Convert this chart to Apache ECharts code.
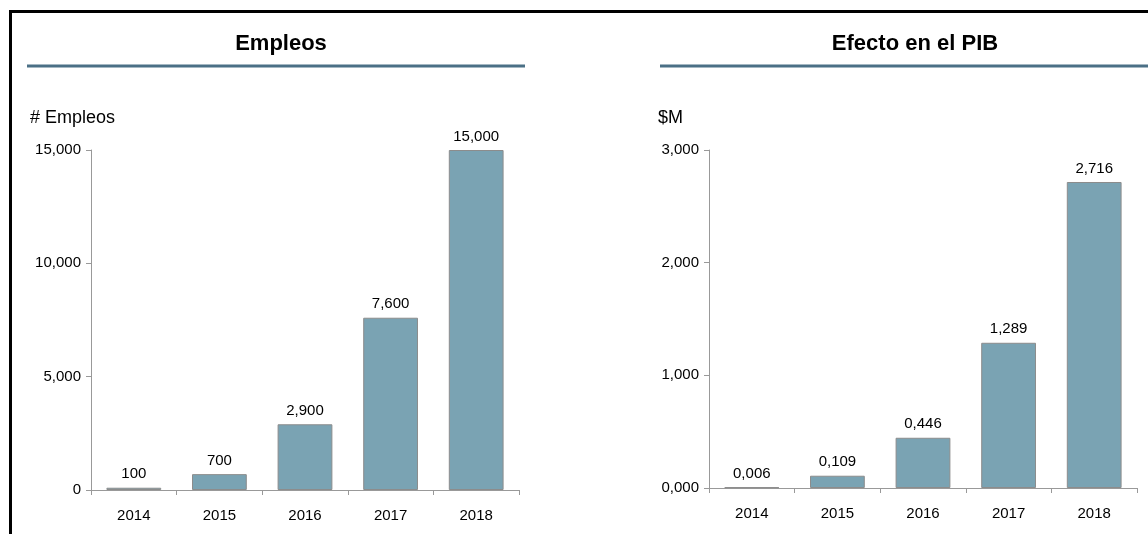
<!DOCTYPE html>
<html>
<head>
<meta charset="utf-8">
<script src="https://cdn.jsdelivr.net/npm/echarts@6/dist/echarts.min.js"></script>
<style>
  html, body { margin: 0; padding: 0; background: #fff; }
  #wrap { position: relative; width: 1148px; height: 534px; overflow: hidden; }
  #frame { position: absolute; left: 9px; top: 10px; width: 1200px; height: 600px;
           border-left: 3px solid #000; border-top: 3px solid #000; }
  #chart { position: absolute; left: 0; top: 0; width: 1148px; height: 534px; }
</style>
</head>
<body>
<div id="wrap">
  <div id="frame"></div>
  <div id="chart"></div>
</div>
<script>
// datos
var years = ['2014', '2015', '2016', '2017', '2018'];
var empleos = [100, 700, 2900, 7600, 15000];
var pib = [0.006, 0.109, 0.446, 1.289, 2.716];   // se muestra con coma decimal

var barColor = '#7aa3b3';
var lineColor = '#4b7086';
var axisGray = '#999999';
var font = 'Liberation Sans, Arial, sans-serif';

function miles(v) {
  return String(Math.round(v)).replace(/\B(?=(\d{3})+(?!\d))/g, ',');
}
function coma(v) {
  return Number(v).toFixed(3).replace('.', ',');
}

var chart = echarts.init(document.getElementById('chart'));

function xAxisFor(idx) {
  return {
    type: 'category',
    gridIndex: idx,
    data: years,
    axisLine: { lineStyle: { color: axisGray, width: 1 } },
    axisTick: { show: true, alignWithLabel: false, interval: 0, length: 5, lineStyle: { color: axisGray } },
    axisLabel: { color: '#000', fontSize: 15, fontFamily: font, margin: 18 }
  };
}
function yAxisFor(idx, max, interval, fmt) {
  return {
    type: 'value',
    gridIndex: idx,
    min: 0,
    max: max,
    interval: interval,
    splitLine: { show: false },
    axisLine: { show: true, lineStyle: { color: axisGray, width: 1 } },
    axisTick: { show: true, length: 5, lineStyle: { color: axisGray } },
    axisLabel: { color: '#000', fontSize: 15, fontFamily: font, margin: 10, formatter: fmt }
  };
}
function barSeries(idx, data, fmt) {
  return {
    type: 'bar',
    xAxisIndex: idx,
    yAxisIndex: idx,
    data: data,
    barWidth: '64%',
    itemStyle: { color: barColor, borderColor: '#8c8c8c', borderWidth: 1 },
    label: {
      show: true,
      position: 'top',
      distance: 6,
      color: '#000',
      fontSize: 15,
      fontFamily: font,
      formatter: function (p) { return fmt(p.value); }
    }
  };
}

chart.setOption({
  animation: false,
  title: [
    { text: 'Empleos', left: 276, top: 28, textAlign: 'center',
      textStyle: { fontSize: 22, fontWeight: 'bold', fontFamily: font, color: '#000' } },
    { text: 'Efecto en el PIB', left: 910, top: 28, textAlign: 'center',
      textStyle: { fontSize: 22, fontWeight: 'bold', fontFamily: font, color: '#000' } }
  ],
  graphic: [
    { type: 'line', shape: { x1: 27, y1: 66, x2: 525, y2: 66 }, style: { stroke: lineColor, lineWidth: 3 } },
    { type: 'line', shape: { x1: 660, y1: 66, x2: 1148, y2: 66 }, style: { stroke: lineColor, lineWidth: 3 } },
    { type: 'text', left: 30, top: 109, style: { text: '# Empleos', fontSize: 18, fontFamily: font, fill: '#000' } },
    { type: 'text', left: 658, top: 109, style: { text: '$M', fontSize: 18, fontFamily: font, fill: '#000' } }
  ],
  grid: [
    { left: 91, right: 629, top: 150, bottom: 44 },
    { left: 709, right: 11, top: 150, bottom: 46 }
  ],
  xAxis: [xAxisFor(0), xAxisFor(1)],
  yAxis: [
    yAxisFor(0, 15000, 5000, miles),
    yAxisFor(1, 3, 1, coma)
  ],
  series: [
    barSeries(0, empleos, miles),
    barSeries(1, pib, coma)
  ]
});
</script>
</body>
</html>
